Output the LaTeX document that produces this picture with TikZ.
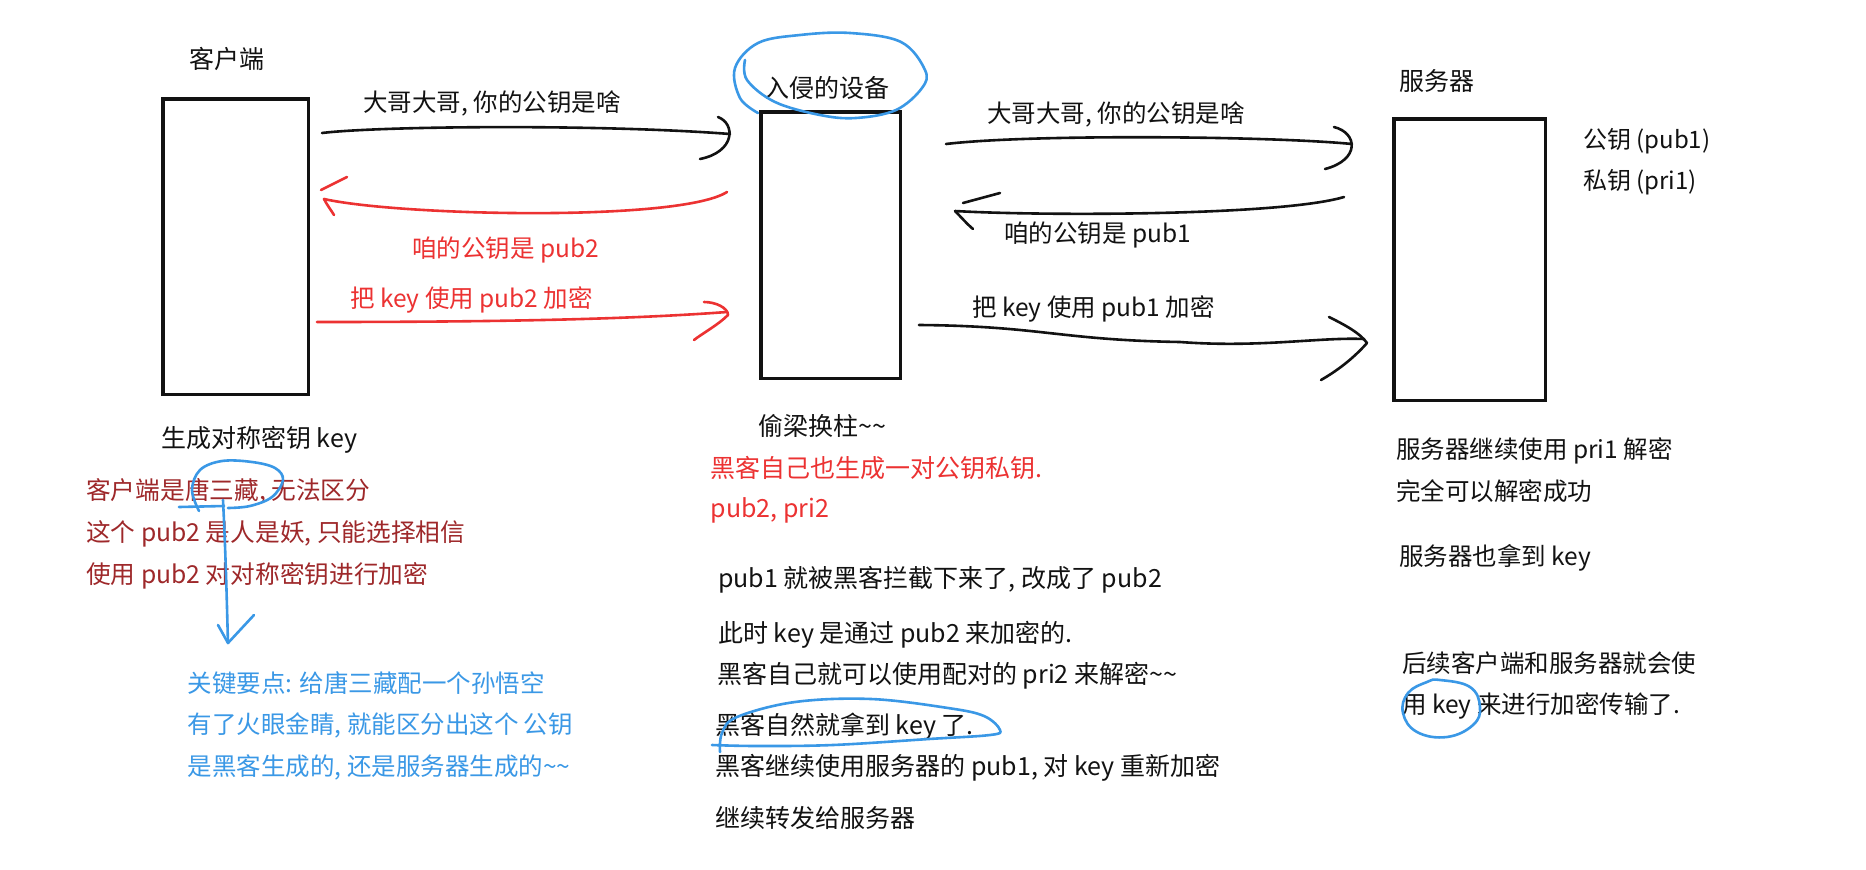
\documentclass[tikz,border=0pt]{standalone}
\usepackage{fontspec}
\setmainfont{Noto Sans CJK SC}
\definecolor{hred}{RGB}{236,50,50}
\definecolor{dred}{RGB}{158,40,42}
\definecolor{hblue}{RGB}{58,152,230}
\definecolor{ink}{RGB}{18,18,18}
\newcommand{\tl}{\textasciitilde}
\tikzset{
  box/.style={draw=ink, line width=3.5pt, inner sep=0pt},
  lt/.style={inner sep=0pt, anchor=base west, text=ink, font=\fontsize{#1}{#1}\selectfont},
  ct/.style={inner sep=0pt, anchor=base, text=ink, font=\fontsize{#1}{#1}\selectfont},
  blk/.style={draw=ink, line width=2.6pt, line cap=round, line join=round},
  redl/.style={draw=hred, line width=2.6pt, line cap=round, line join=round},
  bluel/.style={draw=hblue, line width=2.6pt, line cap=round, line join=round}
}
\begin{document}
\begin{tikzpicture}[x=1pt,y=-1pt]
\useasboundingbox (0,0) rectangle (1866,870);
\fill[white] (0,0) rectangle (1866,870);

% boxes
\node[box, minimum width=145.5pt, minimum height=295.5pt] (client) at (235.5,246.5) {};
\node[box, minimum width=139.5pt, minimum height=266.5pt] (hacker) at (830.5,245) {};
\node[box, minimum width=151.5pt, minimum height=281.5pt] (server) at (1469.5,259.5) {};

% titles
\node[ct=25] (tclient) at (226.5,68.5) {客户端};
\node[ct=25] (thacker) at (827,97) {入侵的设备};
\node[ct=25] (tserver) at (1437,90) {服务器};

% message labels
\node[ct=24.5] (m1) at (492,111.5) {大哥大哥, 你的公钥是啥};
\node[ct=24.5, text=hred] (m2) at (505.5,257.5) {咱的公钥是 pub2};
\node[ct=24.5, text=hred] (m3) at (471.5,307.5) {把 key 使用 pub2 加密};
\node[ct=24.5] (m4) at (1116,122) {大哥大哥, 你的公钥是啥};
\node[ct=24.5] (m5) at (1097.5,242.5) {咱的公钥是 pub1};
\node[ct=24.5] (m6) at (1093.5,316.5) {把 key 使用 pub1 加密};

% server keys
\node[lt=24] (kpub) at (1583,148) {公钥 (pub1)};
\node[lt=24] (kpri) at (1583,189) {私钥 (pri1)};

% client notes
\node[lt=25] (c0) at (161,447.5) {生成对称密钥 key};
\node[lt=24.7, text=dred] (c1) at (86,499.5) {客户端是唐三藏, 无法区分};
\node[lt=24.7, text=dred] (c2) at (86,541.5) {这个 pub2 是人是妖, 只能选择相信};
\node[lt=24.7, text=dred] (c3) at (86,583.5) {使用 pub2 对对称密钥进行加密};
\node[lt=24.5, text=hblue] (b1) at (187.5,692) {关键要点: 给唐三藏配一个孙悟空};
\node[lt=24.5, text=hblue] (b2) at (187.5,733.5) {有了火眼金睛, 就能区分出这个 公钥};
\node[lt=24.5, text=hblue] (b3) at (187.5,775.5) {是黑客生成的, 还是服务器生成的\tl\tl};

% hacker notes
\node[lt=25] (h0) at (758.5,435.5) {偷梁换柱\tl\tl};
\node[lt=25, text=hred] (h1) at (710.5,477) {黑客自己也生成一对公钥私钥.};
\node[lt=25, text=hred] (h2) at (710.5,517) {pub2, pri2};
\node[lt=25] (h3) at (718,587.5) {pub1 就被黑客拦截下来了, 改成了 pub2};
\node[lt=25] (h4) at (718,642) {此时 key 是通过 pub2 来加密的.};
\node[lt=25] (h5) at (717,683) {黑客自己就可以使用配对的 pri2 来解密\tl\tl};
\node[lt=25] (h6) at (715,734.5) {黑客自然就拿到 key 了.};
\node[lt=25] (h7) at (715.5,775) {黑客继续使用服务器的 pub1, 对 key 重新加密};
\node[lt=25] (h8) at (715.5,827) {继续转发给服务器};

% server notes
\node[lt=24.5] (s1) at (1396,458) {服务器继续使用 pri1 解密};
\node[lt=24.5] (s2) at (1396,500) {完全可以解密成功};
\node[lt=24.5] (s3) at (1399,565) {服务器也拿到 key};
\node[lt=24.5] (s4) at (1402,672) {后续客户端和服务器就会使};
\node[lt=24.5] (s5) at (1402,713) {用 key 来进行加密传输了.};

% connector end points
\coordinate (a1s) at (322,133);  \coordinate (a1e) at (730,134);
\coordinate (a2s) at (727,192);  \coordinate (a2e) at (324,199);
\coordinate (a3s) at (317,322);  \coordinate (a3e) at (727,312);
\coordinate (b1s) at (946,144);  \coordinate (b1e) at (1352,144);
\coordinate (b2s) at (1344,197); \coordinate (b2e) at (955,211);
\coordinate (b3s) at (919,325);  \coordinate (b3e) at (1364,339);

% client -> hacker: ask
\draw[blk] (a1s) .. controls (380,126) and (600,124) .. (a1e);
\draw[blk] (718,117) .. controls (736,124) and (735,152) .. (700,159);

% hacker -> client: pub2 (red)
\draw[redl] (a2s) .. controls (680,222) and (400,216) .. (a2e);
\draw[redl] (347,177) -- (321,190);
\draw[redl] (a2e) .. controls (327,205) and (331,210) .. (334,215);

% client -> hacker: key with pub2 (red)
\draw[redl] (a3s) .. controls (480,322) and (620,320) .. (a3e);
\draw[redl] (704,302) .. controls (716,302) and (728,308) .. (728,315) .. controls (718,325) and (703,333) .. (694,340);

% hacker -> server: ask
\draw[blk] (b1s) .. controls (1030,134) and (1270,136) .. (b1e);
\draw[blk] (1334,127) .. controls (1358,133) and (1360,160) .. (1325,169);

% server -> hacker: pub1
\draw[blk] (b2s) .. controls (1280,216) and (1040,216) .. (b2e);
\draw[blk] (1000,193) -- (963,203);
\draw[blk] (b2e) .. controls (961,217) and (967,224) .. (973,229);

% hacker -> server: key with pub1
\draw[blk] (b3s) .. controls (1040,326) and (1060,340) .. (1180,342) .. controls (1260,348) and (1320,337) .. (b3e);
\draw[blk] (1329,317) .. controls (1345,325) and (1360,333) .. (1367,343) .. controls (1352,360) and (1335,372) .. (1321,380);

% blue annotations
\draw[bluel] plot[smooth, tension=0.6] coordinates {(745,60) (747,80) (775,102) (820,115) (856,118) (896,110) (922,88) (925,70) (901,42) (850,33) (800,35) (758,43) (735,68) (740,98) (758,113)};
\draw[bluel] (179,507) -- (224,506);
\draw[bluel] plot[smooth, tension=0.6] coordinates {(199,511) (192,490) (200,470) (222,461) (252,462) (275,468) (283,480) (272,497) (250,506) (228,508)};
\coordinate (va) at (223,500);
\coordinate (vb) at (228,643);
\draw[bluel] (va) .. controls (226,560) and (227,610) .. (vb);
\draw[bluel] (218,625) -- (vb) -- (254,615);
\draw[bluel] plot[smooth, tension=0.6] coordinates {(720,752) (722,733) (737,717) (795,702) (871,699) (948,708) (984,716) (1000,730) (990,735) (929,739) (833,745) (757,746) (712,745)};
\draw[bluel] plot[smooth cycle, tension=0.7] coordinates {(1440,680) (1470,687) (1480,707) (1473,725) (1447,737) (1417,732) (1403,713) (1408,693) (1427,682)};
\end{tikzpicture}
\end{document}
